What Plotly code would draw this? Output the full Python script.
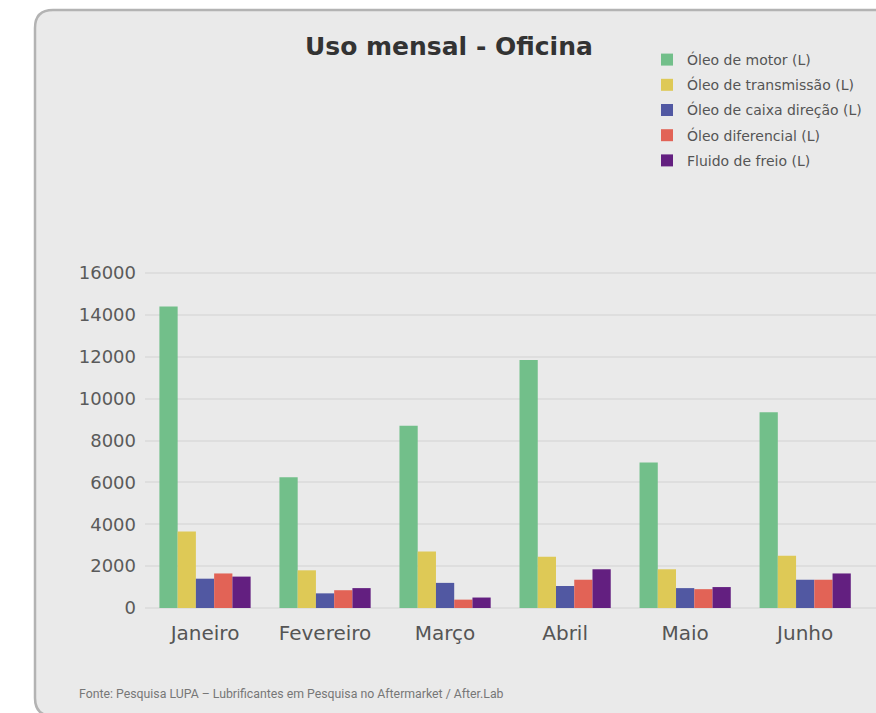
import plotly.graph_objects as go

months = ["Janeiro", "Fevereiro", "Março", "Abril", "Maio", "Junho"]
series_names = [
    "Óleo de motor (L)",
    "Óleo de transmissão (L)",
    "Óleo de caixa direção (L)",
    "Óleo diferencial (L)",
    "Fluido de freio (L)",
]
oleo_motor = [14400, 6250, 8700, 11850, 6950, 9350]
oleo_transmissao = [3650, 1800, 2700, 2450, 1850, 2500]
oleo_caixa_direcao = [1400, 700, 1200, 1050, 950, 1350]
oleo_diferencial = [1650, 850, 400, 1350, 900, 1350]
fluido_freio = [1500, 950, 500, 1850, 1000, 1650]
y_ticks = [0, 2000, 4000, 6000, 8000, 10000, 12000, 14000, 16000]

series_values = [oleo_motor, oleo_transmissao, oleo_caixa_direcao, oleo_diferencial, fluido_freio]
colors = ["#72bf8a", "#dec956", "#5158a2", "#e26356", "#631f80"]

W, H = 876, 713
ML, MR, MT, MB = 145, 0, 272, 105
PW = W - ML - MR
PH = H - MT - MB


def px(x):
    return (x - ML) / PW


def py(y):
    return (H - MB - y) / PH


fig = go.Figure()
for i, (name, vals, col) in enumerate(zip(series_names, series_values, colors)):
    fig.add_trace(go.Bar(
        x=months, y=vals, name=name, marker=dict(color=col, line=dict(width=0)),
        legendgroup=f"g{i}",
    ))

# card background
r = 18
L, T, R, B = 35, 10, 910, 716
path = (
    f"M {px(L + r)},{py(T)} L {px(R)},{py(T)} L {px(R)},{py(B)} L {px(L + r)},{py(B)} "
    f"Q {px(L)},{py(B)} {px(L)},{py(B - r)} L {px(L)},{py(T + r)} "
    f"Q {px(L)},{py(T)} {px(L + r)},{py(T)} Z"
)

fig.update_layout(
    width=W, height=H,
    margin=dict(l=ML, r=MR, t=MT, b=MB),
    paper_bgcolor="white",
    plot_bgcolor="rgba(0,0,0,0)",
    barmode="group", bargap=0.24, bargroupgap=0,
    font=dict(family="DejaVu Sans", color="#5a5a5a"),
    shapes=[dict(type="path", path=path, xref="paper", yref="paper",
                 fillcolor="#eaeaea", line=dict(color="#b3b3b3", width=2.5), layer="below")],
    legend=dict(
        x=px(647), y=py(44), xanchor="left", yanchor="top",
        font=dict(size=14, color="#555555"),
        bgcolor="rgba(0,0,0,0)", tracegroupgap=4,
        traceorder="grouped",
    ),
    annotations=[
        dict(text="<b>Uso mensal - Oficina</b>", x=px(449), y=py(47), xref="paper", yref="paper",
             xanchor="center", yanchor="middle", showarrow=False,
             font=dict(size=25, color="#333333", family="DejaVu Sans")),
        dict(text="Fonte: Pesquisa LUPA – Lubrificantes em Pesquisa no Aftermarket / After.Lab",
             x=px(77), y=py(694), xref="paper", yref="paper",
             xanchor="left", yanchor="middle", showarrow=False,
             font=dict(size=12.3, color="#777777", family="Roboto")),
    ],
)
fig.update_xaxes(
    range=[-0.5, 5.59], showgrid=False, showline=False, zeroline=False,
    tickfont=dict(size=20, color="#555555"), ticklabelstandoff=11,
)
fig.update_yaxes(
    range=[0, 16050], tickvals=y_ticks, tickformat="d", showgrid=True, gridcolor="#dedede", gridwidth=1.5,
    zeroline=True, zerolinecolor="#dedede", zerolinewidth=1.5, showline=False,
    tickfont=dict(size=18, color="#5a5a5a"), ticklabelstandoff=8,
)

fig.write_html("out.html", config={"displayModeBar": False},
               post_script="document.body.style.margin='0';")
